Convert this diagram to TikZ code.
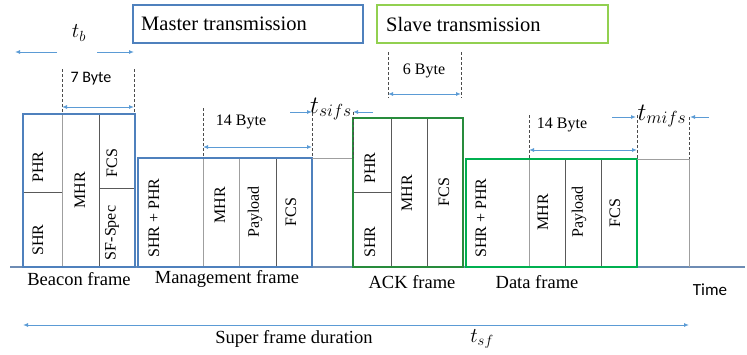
\documentclass[tikz,border=0pt]{standalone}
\usepackage{fix-cm}
\usepackage{fontspec}
\setmainfont{Liberation Serif}
\newfontfamily\labelsans{Carlito}
\usetikzlibrary{arrows.meta}

\definecolor{frameblue}{RGB}{79,129,189}
\definecolor{arrowblue}{RGB}{91,155,213}
\definecolor{slavegreen}{RGB}{146,208,80}
\definecolor{datagreen}{RGB}{0,176,80}
\definecolor{ackgreen}{RGB}{40,140,60}
\definecolor{axisline}{RGB}{110,140,180}

\tikzset{
  fieldlbl/.style={font=\fontsize{16}{18}\selectfont, rotate=90, inner sep=0pt},
  framename/.style={font=\fontsize{18.5}{21}\selectfont, inner sep=0pt},
  bytelbl/.style={font=\fontsize{16}{18}\selectfont, inner sep=0pt},
  mathlbl/.style={inner sep=0pt},
  headbox/.style={line width=2pt},
  divider/.style={draw=gray!75, line width=1pt},
  darkdivider/.style={draw=black!65, line width=0.8pt},
  guide/.style={draw=black!70, dash pattern=on 3pt off 2pt, line width=0.8pt},
  dimarrow/.style={draw=arrowblue, line width=1pt,
    {Latex[length=5pt,width=4pt]}-{Latex[length=5pt,width=4pt]}},
  onearrow/.style={draw=arrowblue, line width=1pt, -{Latex[length=5pt,width=4pt]}},
}

\begin{document}
\begin{tikzpicture}[x=1pt,y=-1pt]
\useasboundingbox (0,0) rectangle (747,354);

% header boxes
\draw[headbox, draw=frameblue] (133,5) rectangle (363,43);
\node[anchor=west, inner sep=0pt, font=\fontsize{20.5}{23}\selectfont] (master) at (141,24) {Master transmission};
\draw[headbox, draw=slavegreen] (377,5) rectangle (608,43);
\node[anchor=west, inner sep=0pt, font=\fontsize{20.5}{23}\selectfont] (slave) at (386,24) {Slave transmission};

% time axis
\draw[draw=axisline, line width=1.2pt] (10,267) -- (745,267);

% beacon frame
\draw[divider] (62,114) -- (62,267);
\draw[darkdivider] (99,114) -- (99,267);
\draw[darkdivider] (23,192) -- (62,192);
\draw[darkdivider] (99,188) -- (135,188);
\draw[draw=frameblue, line width=2pt] (23,114) rectangle (135,267);
\node[fieldlbl] (bphr) at (38,167) {PHR};
\node[fieldlbl] (bshr) at (38,240) {SHR};
\node[fieldlbl] (bmhr) at (80,190) {MHR};
\node[fieldlbl] (bfcs) at (112,163) {FCS};
\node[fieldlbl] (bsf) at (112,233) {SF-Spec};
\node[framename] (beacon) at (79,279) {Beacon frame};

% management frame
\draw[divider] (203,158) -- (203,267);
\draw[divider] (239,158) -- (239,267);
\draw[darkdivider] (276,158) -- (276,267);
\draw[draw=frameblue, line width=2pt] (138,158) rectangle (312,267);
\node[fieldlbl] (mshr) at (154,218) {SHR + PHR};
\node[fieldlbl] (mmhr) at (220,205) {MHR};
\node[fieldlbl] (mpay) at (255,212) {Payload};
\node[fieldlbl] (mfcs) at (291,212) {FCS};
\node[framename] (mgmt) at (227,279) {Management frame};

% idle gap before the ACK
\draw[divider] (312,158) -- (353,158);

% ACK frame
\draw[darkdivider] (391,118) -- (391,267);
\draw[darkdivider] (427,118) -- (427,267);
\draw[darkdivider] (353,192) -- (391,192);
\draw[draw=ackgreen, line width=1.6pt] (353,118) rectangle (463,267);
\node[fieldlbl] (aphr) at (370,168) {PHR};
\node[fieldlbl] (ashr) at (370,242) {SHR};
\node[fieldlbl] (amhr) at (407,193) {MHR};
\node[fieldlbl] (afcs) at (444,192) {FCS};
\node[framename] (ack) at (412,282) {ACK frame};

% data frame
\draw[divider] (529,159) -- (529,267);
\draw[darkdivider] (565,159) -- (565,267);
\draw[darkdivider] (601,159) -- (601,267);
\draw[draw=datagreen, line width=2.5pt] (466,159) rectangle (637,267);
\node[fieldlbl] (dshr) at (481,218) {SHR + PHR};
\node[fieldlbl] (dmhr) at (543,212) {MHR};
\node[fieldlbl] (dpay) at (579,212) {Payload};
\node[fieldlbl] (dfcs) at (615,213) {FCS};
\node[framename] (data) at (537,282) {Data frame};

% idle slot after the data frame
\draw[divider] (637,159) -- (689,159) -- (689,267);

% t_b
\node[mathlbl, font=\fontsize{21}{24}\selectfont] (tb) at (79,33) {$t_b$};
\coordinate (tbL0) at (57,52); \coordinate (tbL1) at (15,52);
\coordinate (tbR0) at (97,52); \coordinate (tbR1) at (134,52);
\draw[onearrow] (tbL0) -- (tbL1);
\draw[onearrow] (tbR0) -- (tbR1);

% 7 Byte
\coordinate (s7a) at (62,69); \coordinate (s7b) at (134,69);
\draw[guide] (s7a) -- (62,114);
\draw[guide] (s7b) -- (134,114);
\coordinate (a7a) at (62,107); \coordinate (a7b) at (134,107);
\draw[dimarrow] (a7a) -- (a7b);
\node[bytelbl, font=\labelsans\fontsize{16}{18}\selectfont] (b7) at (91,79) {7 Byte};

% 14 Byte (management)
\draw[guide] (203,108) -- (203,158);
\draw[guide] (312,108) -- (312,158);
\coordinate (a14a) at (203,147); \coordinate (a14b) at (312,147);
\draw[dimarrow] (a14a) -- (a14b);
\node[bytelbl] (b14m) at (241,122) {14 Byte};

% t_sifs
\node[mathlbl, anchor=base, font=\fontsize{25}{28}\selectfont] (tsifs) at (331,113) {$t_{sifs}$};
\coordinate (siL0) at (290,112); \coordinate (siL1) at (312,112);
\coordinate (siR0) at (373,112); \coordinate (siR1) at (353,112);
\draw[onearrow] (siL0) -- (siL1);
\draw[onearrow] (siR0) -- (siR1);
\draw[guide] (353,112) -- (353,158);

% 6 Byte
\draw[guide] (388,52) -- (388,98);
\draw[guide] (461,52) -- (461,98);
\coordinate (a6a) at (388,94); \coordinate (a6b) at (461,94);
\draw[dimarrow] (a6a) -- (a6b);
\node[bytelbl] (b6) at (424,71) {6 Byte};

% 14 Byte (data)
\draw[guide] (529,115) -- (529,159);
\draw[guide] (637,115) -- (637,159);
\coordinate (d14a) at (529,150); \coordinate (d14b) at (637,150);
\draw[dimarrow] (d14a) -- (d14b);
\node[bytelbl] (b14d) at (562,125) {14 Byte};

% t_mifs
\node[mathlbl, anchor=base, font=\fontsize{25}{28}\selectfont] (tmifs) at (662,120) {$t_{mifs}$};
\coordinate (miL0) at (612,117); \coordinate (miL1) at (636,117);
\coordinate (miR0) at (709,117); \coordinate (miR1) at (690,117);
\draw[onearrow] (miL0) -- (miL1);
\draw[onearrow] (miR0) -- (miR1);
\draw[guide] (689,117) -- (689,159);

% axis label
\node[inner sep=0pt, font=\labelsans\fontsize{17}{19}\selectfont] (time) at (710,290) {Time};

% superframe duration
\coordinate (sfa) at (23,325); \coordinate (sfb) at (689,325);
\draw[dimarrow] (sfa) -- (sfb);
\node[framename] (sfd) at (294,339) {Super frame duration};
\node[mathlbl, font=\fontsize{21}{24}\selectfont] (tsf) at (482,339) {$t_{sf}$};
\end{tikzpicture}
\end{document}
